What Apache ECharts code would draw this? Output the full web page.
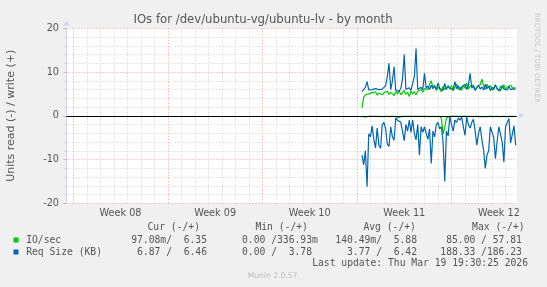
<!DOCTYPE html>
<html><head><meta charset="utf-8">
<script src="https://cdn.jsdelivr.net/npm/echarts@6/dist/echarts.min.js"></script>
<style>html,body{margin:0;padding:0;background:#f0f0f0}#c{width:547px;height:287px}</style>
</head><body><div id="c"></div>
<script>
// ---- data ----
const titleText = 'IOs for /dev/ubuntu-vg/ubuntu-lv - by month';
const yName = 'Units read (-) / write (+)';
const weekLabels = ['Week 08', 'Week 09', 'Week 10', 'Week 11', 'Week 12'];
const weekStarts = [0, 7, 14, 21, 28];          // day offsets of Monday of each week
const weekMids = [3.5, 10.5, 17.5, 24.5, 31.5]; // label positions
const xMin = -0.5, xMax = 32.82;                // visible range in days
const startDay = 21.37, stepDays = 0.125;       // first sample, sample spacing (days)

const ioWrite = [1.8,4.2,4.8,4.5,5.0,4.8,5.3,4.9,5.5,4.7,
 5.2,5.6,4.8,5.3,5.0,5.6,4.9,5.4,5.1,4.6,
 5.5,5.0,5.7,4.8,5.3,5.8,4.9,5.4,4.4,5.6,
 5.0,5.5,4.8,5.6,5.2,6.0,5.4,6.2,6.6,6.0,
 7.2,8.0,6.5,7.0,5.8,6.6,6.2,5.5,6.8,6.0,
 5.6,6.7,6.2,7.0,5.7,6.5,7.3,6.0,6.6,5.8,
 6.9,6.3,7.5,6.1,6.8,6.4,7.0,5.9,6.6,6.2,
 7.1,8.4,6.8,6.0,7.2,6.4,6.9,5.8,6.5,7.0,
 6.2,5.6,6.8,6.3,7.1,6.0,6.6,6.2,7.0,6.4,
 6.8,6.4];
const ioRead = [-0.1,-0.2,-0.3,-0.1,-0.1,-0.2,-0.1,-0.1,-0.1,-0.2,
 -0.1,-0.1,-0.2,-0.1,-0.1,-0.1,-0.2,-0.1,-0.1,-0.1,
 -0.2,-0.3,-0.4,-0.2,-0.1,-0.1,-0.1,-0.2,-0.1,-0.1,
 -0.1,-0.2,-0.1,-0.1,-0.1,-0.2,-0.1,-0.1,-0.1,-0.1,
 -0.2,-0.1,-0.1,-0.1,-0.2,-0.1,-0.1,-0.6,-4.2,-2.6,
 -0.5,-0.1,-0.1,-0.2,-0.1,-0.1,-0.1,-0.2,-0.1,-0.1,
 -0.1,-0.2,-0.1,-0.1,-0.1,-0.1,-0.2,-0.1,-0.1,-0.1,
 -0.2,-0.3,-0.2,-0.4,-0.2,-0.1,-0.1,-0.1,-0.2,-0.1,
 -0.1,-0.1,-0.2,-0.1,-0.1,-0.1,-0.2,-0.1,-0.1,-0.1,
 -0.1,-0.1];
const reqWrite = [5.5,5.8,6.5,7.8,5.9,5.6,6.0,5.7,6.2,5.8,
 6.0,5.6,6.1,5.8,6.9,9.0,12.0,6.0,8.0,11.2,
 5.8,6.2,5.6,6.3,8.5,14.0,6.0,5.7,6.4,5.8,
 6.2,9.0,15.4,6.0,5.8,6.5,6.0,9.7,6.3,6.8,
 6.0,7.0,6.2,6.8,6.0,7.5,6.3,6.6,5.8,7.4,
 6.0,6.9,6.2,6.5,6.0,7.8,6.2,6.9,5.9,6.6,
 6.2,7.2,6.0,7.0,9.7,6.3,6.8,5.8,6.4,7.0,
 6.1,6.6,5.9,7.2,6.2,6.8,5.8,6.5,6.0,7.1,
 6.2,6.6,5.7,6.9,6.1,6.5,5.9,6.7,6.0,6.4,
 6.2,6.0];
const reqRead = [-9.0,-11.2,-8.0,-16.2,-4.1,-4.8,-2.3,-5.4,-7.4,-2.8,
 -6.8,-7.4,-2.0,-1.5,-3.0,-6.5,-7.0,-2.5,-4.8,-5.6,
 -0.5,-1.0,-0.8,-1.5,-1.2,-5.7,-2.0,-3.5,-1.0,-3.8,
 -1.0,-4.0,-5.5,-2.0,-9.0,-2.5,-3.8,-2.5,-4.0,-5.4,
 -3.0,-10.9,-3.5,-4.8,-2.0,-1.5,-3.0,-2.5,-6.0,-15.0,
 -3.5,-4.6,-0.2,-2.0,-3.5,-1.0,-1.5,-0.5,-1.0,-0.3,
 -2.5,-4.5,-0.3,-2.0,-2.8,-1.5,-0.8,-3.5,-6.7,-4.0,
 -2.5,-5.5,-7.9,-12.0,-9.0,-8.0,-2.5,-2.3,-5.0,-9.8,
 -6.0,-2.5,-2.3,-6.0,-10.6,-2.5,-1.5,-0.6,-6.2,-6.5,
 -2.3,-6.7];

const legendNames = ['IO/sec', 'Req Size (KB)'];
const legendColors = ['#00cc00', '#0066b3'];
const statHeaders = ['Cur (-/+)', 'Min (-/+)', 'Avg (-/+)', 'Max (-/+)'];
const statsIO  = [['97.08m','6.35'], ['0.00','336.93m'], ['140.49m','5.88'], ['85.00','57.81']];
const statsReq = [['6.87','6.46'], ['0.00','3.78'], ['3.77','6.42'], ['188.33','186.23']];
const lastUpdate = 'Last update: Thu Mar 19 19:30:25 2026';
const footer = 'Munin 2.0.57';
const watermark = 'RRDTOOL / TOBI OETIKER';

// ---- build ----
const chart = echarts.init(document.getElementById('c'), null, {renderer: 'canvas'});
const toPairs = arr => arr.map((v, i) => [startDay + i * stepDays, v]);

function fmtVal(s) {
  const m = s.match(/^([0-9.]+)([a-zA-Z]?)$/);
  return m[1].padStart(6) + (m[2] || ' ');
}
function statLine(name, stats) {
  return name.padEnd(17) + stats.map(p => fmtVal(p[0]) + '/' + fmtVal(p[1])).join('   ');
}

const gridMinor = '#cfcfcf', gridMajor = '#eea0a0';
const vLines = [];
for (let d = Math.ceil(xMin); d <= Math.floor(xMax); d++) {
  const major = weekStarts.indexOf(d) >= 0;
  vLines.push({xAxis: d, lineStyle: {color: major ? gridMajor : gridMinor, type: [1, 2], width: 1}});
}

const mono = 'DejaVu Sans Mono';
const sans = 'DejaVu Sans';
const txtCol = '#555';
const legX = 26.2, legFs = 9.7;
const headerX = [147.5, 255.4, 363.4, 472.1];
const rowY = [240, 252];

const graphics = [
  {type: 'text', x: 263, y: 19.5, style: {text: titleText, font: '11.7px "' + sans + '"', fill: txtCol, align: 'center', verticalAlign: 'middle'}},
  {type: 'text', x: 11, y: 115.8, rotation: Math.PI / 2, style: {text: yName, font: '11px "' + sans + '"', fill: txtCol, align: 'center', verticalAlign: 'middle'}},
  {type: 'text', x: 537, y: 58, rotation: -Math.PI / 2, style: {text: watermark, font: '7px "' + sans + '"', fill: '#c8c8c8', align: 'center', verticalAlign: 'middle'}},
  {type: 'text', x: 528, y: 263.5, style: {text: lastUpdate, font: legFs + 'px "' + mono + '"', fill: txtCol, align: 'right', verticalAlign: 'middle'}},
  {type: 'text', x: 272.5, y: 276, style: {text: footer, font: '7.6px "' + sans + '"', fill: '#bbbbbb', align: 'center', verticalAlign: 'middle'}}
];
statHeaders.forEach((h, i) => graphics.push({type: 'text', x: headerX[i], y: 227.5,
  style: {text: h, font: legFs + 'px "' + mono + '"', fill: txtCol, align: 'left', verticalAlign: 'middle'}}));
[statsIO, statsReq].forEach((st, r) => {
  graphics.push({type: 'rect', shape: {x: 13.5, y: rowY[r] - 2.5, width: 5, height: 5}, style: {fill: legendColors[r]}});
  graphics.push({type: 'text', x: legX, y: rowY[r],
    style: {text: statLine(legendNames[r], st), font: legFs + 'px "' + mono + '"', fill: txtCol, align: 'left', verticalAlign: 'middle'}});
});

const dayTicks = [];
for (let d = Math.ceil(xMin); d <= Math.floor(xMax); d++) dayTicks.push(d);

const lineSeries = (name, data, color) => ({
  name, type: 'line', data: toPairs(data), showSymbol: false, symbol: 'none',
  lineStyle: {color, width: 1.2}, itemStyle: {color}, z: 3, animation: false
});

chart.setOption({
  backgroundColor: '#f0f0f0',
  animation: false,
  grid: {left: 66.5, top: 28.3, right: 30.3, bottom: 83.7, show: true, backgroundColor: '#ffffff', borderWidth: 0},
  xAxis: {
    type: 'value', min: xMin, max: xMax,
    axisLine: {show: true, lineStyle: {color: '#CFD6F8', width: 1}, symbol: ['none', 'triangle'], symbolSize: [6, 5], symbolOffset: [0, 5]},
    axisTick: {show: true, customValues: dayTicks, length: 2, lineStyle: {color: '#cccccc'}},
    axisLabel: {show: true, customValues: weekMids, margin: 5, color: txtCol, fontSize: 9.7, fontFamily: sans,
      formatter: v => { const i = weekMids.indexOf(v); return i >= 0 ? weekLabels[i] : ''; }},
    splitLine: {show: false}
  },
  yAxis: {
    type: 'value', min: -20, max: 20, interval: 10,
    axisLine: {show: true, onZero: false, lineStyle: {color: '#CFD6F8', width: 1}, symbol: ['none', 'triangle'], symbolSize: [6, 5], symbolOffset: [0, 5]},
    axisTick: {show: true, length: 3, lineStyle: {color: gridMajor}},
    minorTick: {show: true, splitNumber: 5, length: 2, lineStyle: {color: '#cccccc'}},
    axisLabel: {margin: 7.5, color: txtCol, fontSize: 9.7, fontFamily: sans},
    splitLine: {show: true, lineStyle: {color: gridMajor, type: [1, 2]}},
    minorSplitLine: {show: true, lineStyle: {color: gridMinor, type: [1, 2]}}
  },
  series: [
    {type: 'line', data: [], silent: true, z: 1,
      markLine: {silent: true, symbol: ['none', 'none'], z: 1, animation: false, label: {show: false}, data: vLines}},
    lineSeries('IO/sec read', ioRead, '#00cc00'),
    lineSeries('IO/sec write', ioWrite, '#00cc00'),
    {type: 'line', data: [], silent: true, z: 4,
      markLine: {silent: true, symbol: ['none', 'none'], z: 4, animation: false, label: {show: false},
        data: [{yAxis: 0, lineStyle: {color: '#000000', width: 1.2, type: 'solid'}}]}},
    lineSeries('Req Size read', reqRead, '#0066b3'),
    lineSeries('Req Size write', reqWrite, '#0066b3')
  ],
  graphic: graphics
});
</script></body></html>
